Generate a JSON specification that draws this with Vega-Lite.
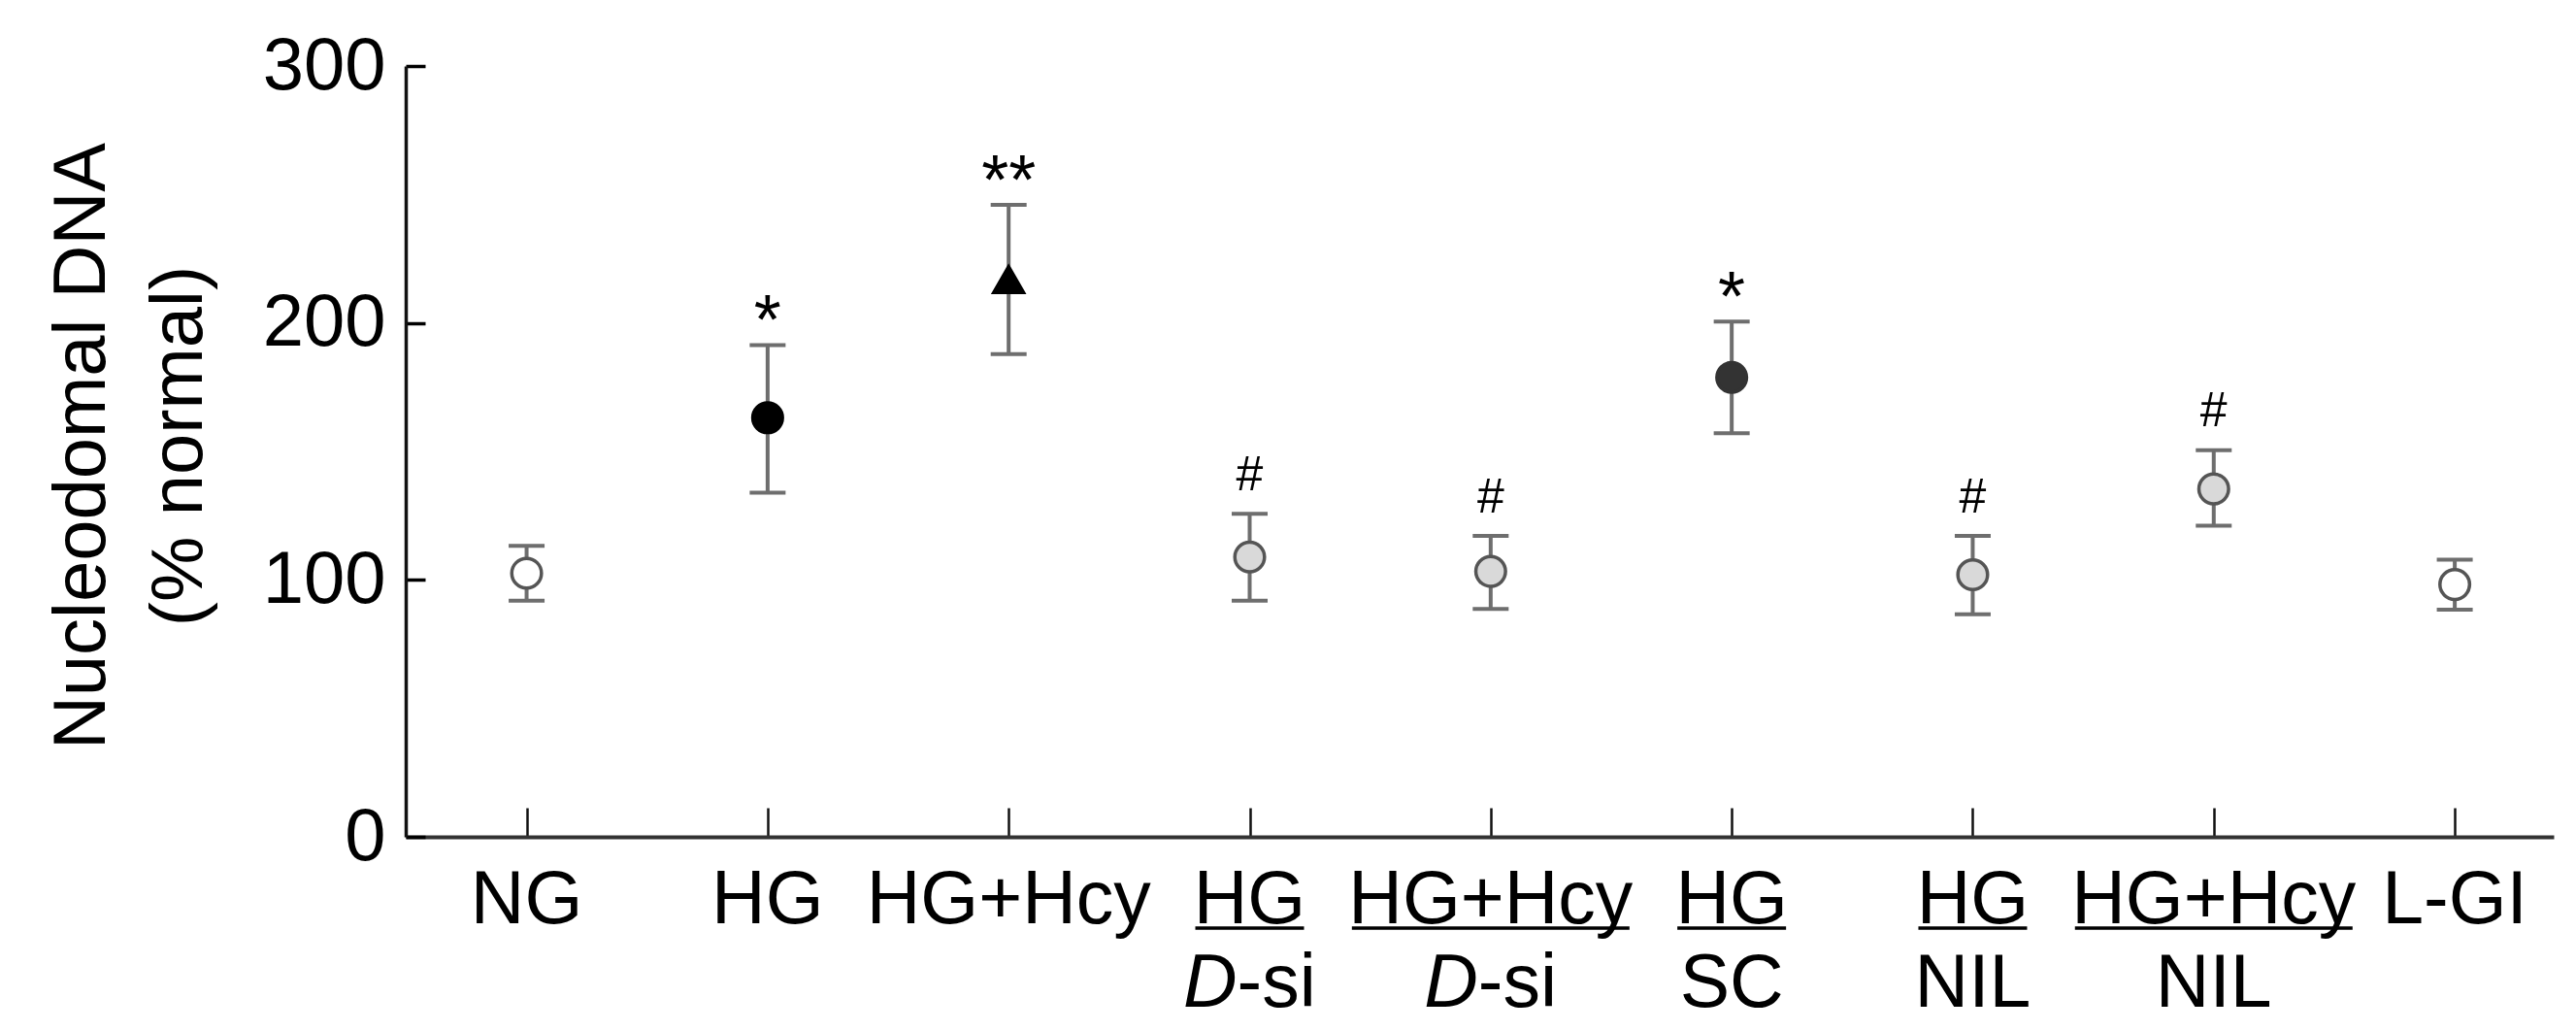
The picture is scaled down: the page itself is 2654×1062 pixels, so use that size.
{
  "$schema": "https://vega.github.io/schema/vega-lite/v6.json",
  "autosize": {"type": "none"},
  "padding": {"left": 418, "top": 68, "right": 23, "bottom": 200},
  "width": 2213,
  "height": 794,
  "background": "white",
  "config": {
    "view": {"stroke": null},
    "font": "Liberation Sans",
    "axis": {"grid": false, "labelFont": "Liberation Sans", "titleFont": "Liberation Sans", "labelColor": "#000", "titleColor": "#000"}
  },
  "data": {
    "values": [
      {"group": "NG", "line1": "NG", "line2": "", "italic": "", "type": "normal", "mean": 102.6, "lower": 91.9, "upper": 113.3, "sig": ""},
      {"group": "HG", "line1": "HG", "line2": "", "italic": "", "type": "HG", "mean": 163.1, "lower": 133.9, "upper": 191.4, "sig": "*"},
      {"group": "HG+Hcy", "line1": "HG+Hcy", "line2": "", "italic": "", "type": "HG+Hcy", "mean": 216.9, "lower": 187.9, "upper": 246.0, "sig": "**"},
      {"group": "HG D-si", "line1": "HG", "line2": "-si", "italic": "D", "type": "treated", "mean": 108.9, "lower": 91.9, "upper": 125.7, "sig": "#"},
      {"group": "HG+Hcy D-si", "line1": "HG+Hcy", "line2": "-si", "italic": "D", "type": "treated", "mean": 103.3, "lower": 88.7, "upper": 117.1, "sig": "#"},
      {"group": "HG SC", "line1": "HG", "line2": "SC", "italic": "", "type": "SC", "mean": 178.8, "lower": 157.1, "upper": 200.5, "sig": "*"},
      {"group": "HG NIL", "line1": "HG", "line2": "NIL", "italic": "", "type": "treated", "mean": 102.0, "lower": 86.6, "upper": 117.1, "sig": "#"},
      {"group": "HG+Hcy NIL", "line1": "HG+Hcy", "line2": "NIL", "italic": "", "type": "treated", "mean": 135.4, "lower": 121.1, "upper": 150.5, "sig": "#"},
      {"group": "L-GI", "line1": "L-GI", "line2": "", "italic": "", "type": "normal", "mean": 98.2, "lower": 88.4, "upper": 107.9, "sig": ""}
    ]
  },
  "encoding": {
    "x": {
      "field": "group", "type": "nominal", "sort": null,
      "scale": {"type": "point", "padding": 0.456, "align": 0.55},
      "axis": {"labels": false, "title": null, "tickSize": -30, "tickWidth": 2.5, "tickColor": "#111", "domainWidth": 4, "domainColor": "#333"}
    }
  },
  "layer": [
    {
      "mark": {"type": "rule", "color": "#6e6e6e", "strokeWidth": 4},
      "encoding": {
        "y": {
          "field": "lower", "type": "quantitative",
          "scale": {"domain": [0, 300], "nice": false, "zero": true},
          "axis": {
            "values": [0, 100, 200, 300], "tickSize": -20, "tickWidth": 3.5, "tickColor": "#000",
            "domainWidth": 3.5, "domainColor": "#111",
            "labelFontSize": 76, "labelPadding": 41,
            "title": ["Nucleodomal DNA", "(% normal)"],
            "titleFontSize": 76, "titleFontWeight": "normal", "titleLineHeight": 100,
            "titleX": -311, "titleY": 391, "titleAlign": "center", "titleBaseline": "alphabetic", "titleAngle": -90
          }
        },
        "y2": {"field": "upper"}
      }
    },
    {
      "mark": {"type": "tick", "color": "#6e6e6e", "size": 37, "thickness": 4, "opacity": 1},
      "encoding": {"y": {"field": "upper", "type": "quantitative"}}
    },
    {
      "mark": {"type": "tick", "color": "#6e6e6e", "size": 37, "thickness": 4, "opacity": 1},
      "encoding": {"y": {"field": "lower", "type": "quantitative"}}
    },
    {
      "mark": {"type": "point", "filled": true, "opacity": 1, "strokeWidth": 3.5},
      "encoding": {
        "y": {"field": "mean", "type": "quantitative"},
        "fill": {"field": "type", "type": "nominal", "legend": null,
          "scale": {"domain": ["normal", "HG", "HG+Hcy", "SC", "treated"], "range": ["#ffffff", "#000000", "#000000", "#333333", "#d9d9d9"]}},
        "stroke": {"field": "type", "type": "nominal", "legend": null,
          "scale": {"domain": ["normal", "HG", "HG+Hcy", "SC", "treated"], "range": ["#555555", "#000000", "#000000", "#333333", "#555555"]}},
        "shape": {"field": "type", "type": "nominal", "legend": null,
          "scale": {"domain": ["normal", "HG", "HG+Hcy", "SC", "treated"], "range": ["circle", "circle", "triangle-up", "circle", "circle"]}},
        "size": {"field": "type", "type": "nominal", "legend": null,
          "scale": {"domain": ["normal", "HG", "HG+Hcy", "SC", "treated"], "range": [935, 935, 1150, 935, 935]}}
      }
    },
    {
      "transform": [{"filter": "datum.sig == '*' || datum.sig == '**'"}],
      "mark": {"type": "text", "fontSize": 72, "baseline": "alphabetic", "align": "center", "dy": -1, "color": "#000"},
      "encoding": {"y": {"field": "upper", "type": "quantitative"}, "text": {"field": "sig"}}
    },
    {
      "transform": [{"filter": "datum.sig == '#'"}],
      "mark": {"type": "text", "fontSize": 50, "baseline": "alphabetic", "align": "center", "dy": -24.5, "color": "#000"},
      "encoding": {"y": {"field": "upper", "type": "quantitative"}, "text": {"field": "sig"}}
    },
    {
      "mark": {"type": "text", "fontSize": 77, "baseline": "alphabetic", "align": "center", "dy": 89, "color": "#000"},
      "encoding": {"y": {"datum": 0}, "text": {"field": "line1"}}
    },
    {
      "transform": [{"filter": "datum.line2 != '' && datum.line1 == 'HG'"}],
      "mark": {"type": "tick", "color": "#000", "size": 112, "thickness": 3.5, "opacity": 1, "yOffset": 94},
      "encoding": {"y": {"datum": 0}}
    },
    {
      "transform": [{"filter": "datum.line2 != '' && datum.line1 == 'HG+Hcy'"}],
      "mark": {"type": "tick", "color": "#000", "size": 286, "thickness": 3.5, "opacity": 1, "yOffset": 94},
      "encoding": {"y": {"datum": 0}}
    },
    {
      "transform": [{"filter": "datum.line2 != '' && datum.italic == ''"}],
      "mark": {"type": "text", "fontSize": 77, "baseline": "alphabetic", "align": "center", "dy": 175, "color": "#000"},
      "encoding": {"y": {"datum": 0}, "text": {"field": "line2"}}
    },
    {
      "transform": [{"filter": "datum.italic != ''"}],
      "mark": {"type": "text", "fontSize": 77, "fontStyle": "italic", "baseline": "alphabetic", "align": "right", "dx": -13, "dy": 175, "color": "#000"},
      "encoding": {"y": {"datum": 0}, "text": {"field": "italic"}}
    },
    {
      "transform": [{"filter": "datum.italic != ''"}],
      "mark": {"type": "text", "fontSize": 77, "baseline": "alphabetic", "align": "left", "dx": -13, "dy": 175, "color": "#000"},
      "encoding": {"y": {"datum": 0}, "text": {"field": "line2"}}
    }
  ]
}
